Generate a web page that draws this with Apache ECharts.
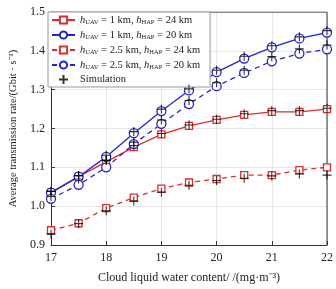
<!DOCTYPE html>
<html>
<head>
<meta charset="utf-8">
<script src="https://cdn.jsdelivr.net/npm/echarts@6/dist/echarts.min.js"></script>
<style>
  html, body { margin: 0; padding: 0; background: #fff; }
  #chart { width: 336px; height: 289px; }
</style>
</head>
<body>
<div id="chart"></div>
<script>
const xValues = [17, 17.5, 18, 18.5, 19, 19.5, 20, 20.5, 21, 21.5, 22]
const yTicks = [0.9, 1.0, 1.1, 1.2, 1.3, 1.4, 1.5]

// analytical curves
const uav1hap24 = [1.035, 1.076, 1.114, 1.152, 1.185, 1.207, 1.222, 1.235, 1.243, 1.243, 1.25]
const uav1hap20 = [1.035, 1.076, 1.127, 1.188, 1.245, 1.298, 1.345, 1.38, 1.409, 1.432, 1.447]
const uav25hap24 = [0.938, 0.956, 0.995, 1.022, 1.045, 1.061, 1.07, 1.08, 1.08, 1.093, 1.1]
const uav25hap20 = [1.019, 1.055, 1.1, 1.16, 1.212, 1.263, 1.309, 1.343, 1.373, 1.393, 1.404]

// simulation points
const sim1hap24 = [1.038, 1.078, 1.118, 1.156, 1.187, 1.209, 1.224, 1.238, 1.246, 1.246, 1.252]
const sim1hap20 = [1.038, 1.079, 1.131, 1.192, 1.25, 1.302, 1.35, 1.386, 1.413, 1.436, 1.452]
const sim25hap24 = [0.928, 0.955, 0.988, 1.013, 1.036, 1.054, 1.066, 1.072, 1.078, 1.083, 1.08]
const sim25hap20 = [1.025, 1.07, 1.118, 1.165, 1.222, 1.272, 1.318, 1.35, 1.385, 1.405, 1.415]

const names = [
  'h1|UAV|1|HAP|24',
  'h1|UAV|1|HAP|20',
  'h2|UAV|2.5|HAP|24',
  'h2|UAV|2.5|HAP|20'
]

const pair = arr => arr.map((v, i) => [xValues[i], v])
const RED = '#d8302c'
const BLUE = '#2424cc'
const plus = 'path://M0,-5L0,5M-5,0L5,0'
const serif = 'Liberation Serif'

const lineSeries = (name, data, color, symbol, dashed) => ({
  name,
  type: 'line',
  data: pair(data),
  symbol,
  symbolSize: symbol === 'rect' ? 7 : 9,
  showAllSymbol: true,
  lineStyle: { color, width: 1.3, type: dashed ? [5, 4] : 'solid' },
  itemStyle: { color: '#fff', borderColor: color, borderWidth: 1.3 },
  z: 3
})

const simSeries = data => ({
  name: 'Simulation',
  type: 'scatter',
  data: pair(data),
  symbol: plus,
  symbolSize: 9,
  itemStyle: { color: 'transparent', borderColor: '#000', borderWidth: 1.1 },
  z: 4
})

const chart = echarts.init(document.getElementById('chart'))
chart.setOption({
  animation: false,
  grid: { left: 48, right: 2, top: 12, bottom: 39 },
  legend: {
    left: 48,
    top: 12,
    orient: 'vertical',
    itemWidth: 23,
    itemHeight: 9,
    itemGap: 3,
    padding: [2, 10, 2, 3],
    backgroundColor: '#fff',
    borderColor: '#999',
    borderWidth: 1,
    borderRadius: 0,
    data: [...names, 'Simulation'],
    formatter: n => {
      if (n === 'Simulation') return '{t|Simulation}'
      const p = n.split('|')
      return '{i|h}{s|' + p[1] + '}{t| = ' + p[2] + ' km, }{i|h}{s|' + p[3] + '}{t| = ' + p[4] + ' km}'
    },
    textStyle: {
      fontFamily: serif,
      color: '#222',
      rich: {
        t: { fontFamily: serif, fontSize: 10.5, lineHeight: 12, color: '#222' },
        i: { fontFamily: serif, fontSize: 10.5, lineHeight: 12, fontStyle: 'italic', color: '#222' },
        s: { fontFamily: serif, fontSize: 6.5, lineHeight: 12, color: '#222', padding: [5, 0, 0, 0] }
      }
    }
  },
  xAxis: {
    type: 'value',
    min: 17,
    max: 22,
    interval: 1,
    name: 'Cloud liquid water content/ /(mg·m⁻³)',
    nameLocation: 'middle',
    nameGap: 27,
    nameTextStyle: { fontFamily: serif, fontSize: 12, color: '#222' },
    axisLine: { onZero: false, lineStyle: { color: '#333' } },
    axisTick: { inside: true, length: 4, lineStyle: { color: '#333' } },
    axisLabel: { fontFamily: serif, fontSize: 12, color: '#222', margin: 7 },
    splitLine: { show: true, lineStyle: { color: '#e6e6e6' } }
  },
  yAxis: {
    type: 'value',
    min: 0.9,
    max: 1.5,
    interval: 0.1,
    name: 'Average transmission rate/(Gbit · s⁻¹)',
    nameLocation: 'middle',
    nameGap: 32,
    nameTextStyle: { fontFamily: serif, fontSize: 10.5, color: '#222' },
    axisLine: { show: true, lineStyle: { color: '#333' } },
    axisTick: { show: true, inside: true, length: 4, lineStyle: { color: '#333' } },
    axisLabel: {
      fontFamily: serif, fontSize: 12, color: '#222', margin: 6,
      formatter: v => {
        const t = yTicks.find(k => Math.abs(k - v) < 1e-6)
        return t === undefined ? '' : t.toFixed(1)
      }
    },
    splitLine: { show: true, lineStyle: { color: '#e6e6e6' } }
  },
  series: [
    lineSeries(names[0], uav1hap24, RED, 'rect', false),
    lineSeries(names[1], uav1hap20, BLUE, 'circle', false),
    lineSeries(names[2], uav25hap24, RED, 'rect', true),
    lineSeries(names[3], uav25hap20, BLUE, 'circle', true),
    simSeries(sim1hap24),
    simSeries(sim1hap20),
    simSeries(sim25hap24),
    simSeries(sim25hap20),
    {
      // top and right frame of the plot box
      type: 'line',
      data: [[17, 1.5], [22, 1.5], [22, 0.9]],
      symbol: 'none',
      silent: true,
      lineStyle: { color: '#333', width: 1 },
      z: 1
    }
  ]
})
</script>
</body>
</html>
